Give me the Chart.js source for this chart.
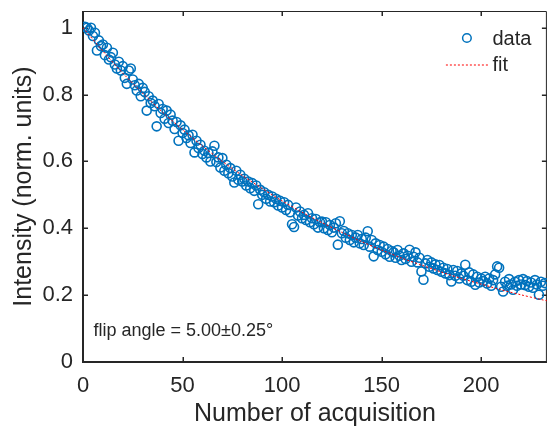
<!DOCTYPE html>
<html><head><meta charset="utf-8">
<script src="https://cdn.jsdelivr.net/npm/chart.js@4/dist/chart.umd.min.js"></script>
<style>html,body{margin:0;padding:0;background:#fff}#wrap{width:553px;height:431px}</style>
</head><body><div id="wrap"><canvas id="c" width="553" height="431"></canvas></div>
<script>
// Measured intensity, acquisitions 1..232 (normalized units)
const intensity = [
1.003,1.000,0.992,1.000,0.975,0.985,0.932,0.962,0.945,0.950,
0.918,0.940,0.905,0.912,0.925,0.890,0.878,0.898,0.872,0.885,
0.850,0.832,0.872,0.878,0.845,0.828,0.812,0.832,0.795,0.820,
0.808,0.752,0.795,0.775,0.782,0.765,0.705,0.772,0.745,0.757,
0.728,0.752,0.715,0.740,0.722,0.697,0.718,0.662,0.708,0.685,
0.695,0.670,0.678,0.655,0.680,0.627,0.662,0.640,0.650,0.622,
0.632,0.612,0.625,0.600,0.630,0.647,0.598,0.612,0.582,0.610,
0.572,0.590,0.565,0.580,0.555,0.537,0.572,0.545,0.560,0.540,
0.548,0.528,0.540,0.520,0.535,0.512,0.528,0.472,0.515,0.500,
0.508,0.488,0.500,0.480,0.495,0.478,0.488,0.468,0.482,0.462,
0.478,0.455,0.470,0.448,0.412,0.404,0.462,0.438,0.450,0.430,
0.440,0.425,0.445,0.418,0.430,0.412,0.428,0.402,0.418,0.420,
0.400,0.418,0.395,0.410,0.388,0.402,0.415,0.351,0.421,0.385,
0.392,0.372,0.385,0.365,0.380,0.358,0.372,0.380,0.355,0.368,
0.350,0.372,0.391,0.345,0.365,0.316,0.355,0.335,0.350,0.330,
0.345,0.322,0.338,0.315,0.332,0.328,0.312,0.335,0.318,0.305,
0.325,0.308,0.318,0.336,0.300,0.315,0.328,0.298,0.312,0.271,
0.246,0.295,0.305,0.285,0.298,0.280,0.292,0.275,0.290,0.270,
0.282,0.265,0.278,0.260,0.241,0.275,0.258,0.272,0.250,0.265,
0.258,0.291,0.245,0.268,0.240,0.262,0.231,0.255,0.238,0.250,
0.242,0.255,0.235,0.250,0.228,0.245,0.262,0.286,0.282,0.225,
0.211,0.240,0.228,0.248,0.232,0.216,0.240,0.228,0.245,0.232,
0.248,0.230,0.242,0.225,0.238,0.222,0.245,0.232,0.201,0.240,0.228,0.236
];
// Fit curve
const fitX = [0,10,20,30,40,50,60,70,80,90,100,110,120,130,140,150,160,170,180,190,200,210,220,230,233];
const fitY = [1.000,0.930,0.864,0.804,0.747,0.695,0.646,0.600,0.558,0.519,0.482,0.448,0.417,0.388,0.360,0.335,0.311,0.290,0.269,0.250,0.233,0.216,0.201,0.187,0.183];
const xTicks = [0,50,100,150,200];
const yTicks = [0,0.2,0.4,0.6,0.8,1];
const yTickLabels = ['0','0.2','0.4','0.6','0.8','1'];
const xRange = [0,233];
const yRange = [0,1.05];
const annotationText = 'flip angle = 5.00\u00b10.25\u00b0';
const legendLabels = ['data','fit'];

const INK = '#262626';
const BLUE = '#0072BD';
const RED = '#FF0000';
const FONT = "'Liberation Sans', Arial, Helvetica, sans-serif";

const dataPts = intensity.map((v,i)=>({x:i+1,y:v}));
const fitPts = fitX.map((v,i)=>({x:v,y:fitY[i]}));

const frame = {
  id:'frame',
  beforeDatasetsDraw(chart){
    const {ctx, chartArea:a, scales:{x,y}} = chart;
    ctx.save();
    ctx.strokeStyle = INK;
    ctx.lineWidth = 1;
    ctx.beginPath();
    ctx.moveTo(a.left, a.top+0.5); ctx.lineTo(a.right-0.5, a.top+0.5); ctx.lineTo(a.right-0.5, a.bottom);
    ctx.stroke();
    ctx.lineWidth = 2;
    ctx.beginPath();
    ctx.moveTo(a.left, a.top); ctx.lineTo(a.left, a.bottom); ctx.lineTo(a.right, a.bottom);
    ctx.stroke();
    ctx.lineWidth = 1.5;
    ctx.beginPath();
    xTicks.forEach(v=>{
      const px = Math.round(x.getPixelForValue(v))+0.25;
      ctx.moveTo(px, a.bottom); ctx.lineTo(px, a.bottom-5);
      ctx.moveTo(px, a.top); ctx.lineTo(px, a.top+5);
    });
    yTicks.forEach(v=>{
      const py = Math.round(y.getPixelForValue(v))+0.25;
      ctx.moveTo(a.left, py); ctx.lineTo(a.left+5, py);
      ctx.moveTo(a.right, py); ctx.lineTo(a.right-5, py);
    });
    ctx.stroke();
    ctx.restore();
  },
  afterDatasetsDraw(chart){
    const {ctx, chartArea:a} = chart;
    ctx.save();
    ctx.font = '20px ' + FONT;
    ctx.fillStyle = INK;
    ctx.textBaseline = 'middle';
    ctx.textAlign = 'left';
    const lx0 = a.right - 101, lx1 = a.right - 59, tx = a.right - 54.5;
    const r1 = a.top + 27, r2 = a.top + 53.5;
    ctx.strokeStyle = BLUE; ctx.lineWidth = 1.5;
    ctx.beginPath(); ctx.arc((lx0+lx1)/2, r1, 4.3, 0, Math.PI*2); ctx.stroke();
    ctx.fillText(legendLabels[0], tx, r1+1.5);
    ctx.strokeStyle = RED; ctx.lineWidth = 1; ctx.setLineDash([2,2]);
    ctx.beginPath(); ctx.moveTo(lx0, r2+0.5); ctx.lineTo(lx1, r2+0.5); ctx.stroke();
    ctx.setLineDash([]);
    ctx.fillText(legendLabels[1], tx, r2+1);
    ctx.font = '18px ' + FONT;
    ctx.textBaseline = 'alphabetic';
    ctx.fillText(annotationText, a.left + 10.5, 336);
    ctx.restore();
  }
};

new Chart(document.getElementById('c'), {
  type:'scatter',
  data:{datasets:[
    {label:'fit', type:'line', data:fitPts, borderColor:RED, borderWidth:1, borderDash:[2,2], pointRadius:0, fill:false, tension:0.3, order:0},
    {label:'data', data:dataPts, borderColor:BLUE, backgroundColor:'rgba(0,0,0,0)', pointRadius:4.5, pointBorderWidth:1.6, pointHoverRadius:4.5, order:1}
  ]},
  options:{
    responsive:false, animation:false, devicePixelRatio:1,
    layout:{padding:{top:11,right:1,left:0,bottom:0}},
    plugins:{legend:{display:false}, tooltip:{enabled:false}},
    scales:{
      x:{type:'linear', min:xRange[0], max:xRange[1],
        afterBuildTicks(s){ s.ticks = xTicks.map(v=>({value:v})); },
        afterFit(s){ s.height = 69; s.paddingLeft = 0; s.paddingRight = 0; },
        grid:{display:false, drawTicks:false}, border:{display:false},
        ticks:{color:INK, font:{family:FONT, size:22}, padding:11, maxRotation:0, autoSkip:false},
        title:{display:true, text:'Number of acquisition', color:INK, font:{family:FONT, size:25}, padding:{top:0,bottom:2}}
      },
      y:{type:'linear', min:yRange[0], max:yRange[1],
        afterBuildTicks(s){ s.ticks = yTicks.map(v=>({value:v})); },
        afterFit(s){ s.width = 83; s.paddingTop = 0; s.paddingBottom = 0; },
        grid:{display:false, drawTicks:false}, border:{display:false},
        ticks:{color:INK, font:{family:FONT, size:22}, padding:10, autoSkip:false,
          callback:(v)=>{ const i = yTicks.indexOf(v); return i>=0 ? yTickLabels[i] : ''; }},
        title:{display:true, text:'Intensity (norm. units)', color:INK, font:{family:FONT, size:25}, padding:{top:9,bottom:0}}
      }
    }
  },
  plugins:[frame]
});
</script></body></html>
